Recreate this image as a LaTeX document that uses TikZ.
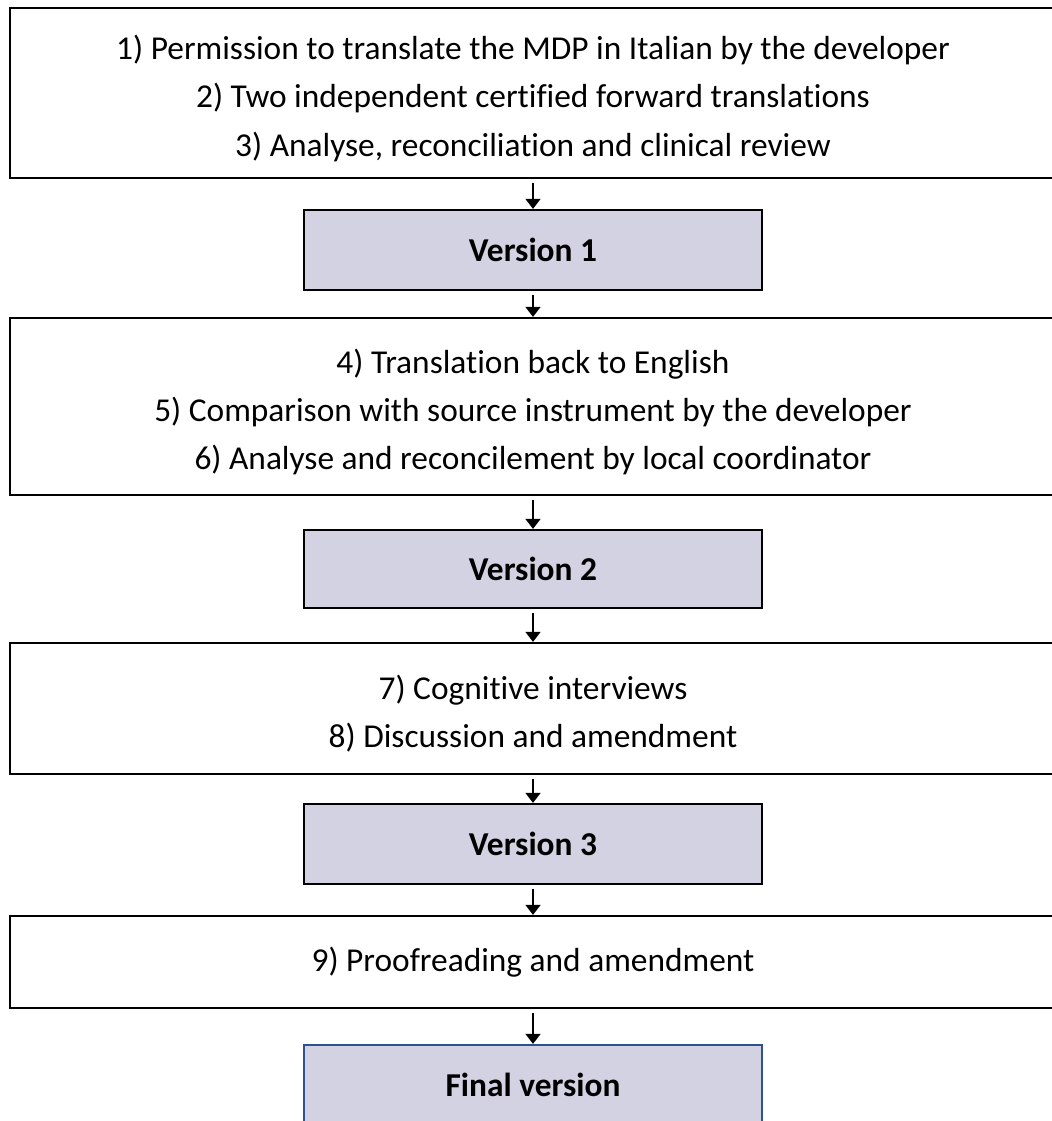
\documentclass[tikz,border=0pt]{standalone}
\usepackage{fontspec}
\setmainfont{Carlito}[Ligatures=NoCommon]
\usetikzlibrary{arrows.meta}

\definecolor{versionfill}{RGB}{210,210,226}
\definecolor{finalblue}{RGB}{47,82,143}

\newcommand{\topstrut}{\rule{0pt}{20pt}}

\tikzset{
	stepbox/.style={draw=black, line width=1.3pt, fill=white, align=center,
		minimum width=20.92cm, inner sep=0pt,
		font=\fontsize{19}{27.5}\selectfont},
	versionbox/.style={draw=black, line width=1.3pt, fill=versionfill,
		minimum width=9.16cm, minimum height=1.6cm, inner sep=0pt,
		font=\fontsize{19}{27.5}\selectfont\bfseries},
	flow/.style={line width=0.9pt, -{Triangle[width=0.3cm,length=0.2cm]}, shorten <=2pt}
}

\begin{document}
\begin{tikzpicture}[x=0.02cm, y=-0.02cm]
	\useasboundingbox (0,0) rectangle (1051,1121);
	
	% Steps 1 2 3
	\node[stepbox, minimum height=3.4cm] (Steps123) at (533,93)
		{\topstrut 1) Permission to translate the MDP in Italian by the developer\\
		 2) Two independent certified forward translations\\
		 3) Analyse, reconciliation and clinical review};
	\node[versionbox] (Version1) at (533,250) {Version 1};
	
	\draw[flow] (Steps123) -- (Version1);
	
	% Steps 4 5 6
	\node[stepbox, minimum height=3.54cm] (Steps456) at (533,406.5)
		{\topstrut 4) Translation back to English\\
		 5) Comparison with source instrument by the developer\\
		 6) Analyse and reconcilement by local coordinator};
	\node[versionbox, minimum height=1.56cm] (Version2) at (533,569) {Version 2};
	
	\draw[flow] (Version1) -- (Steps456);
	\draw[flow] (Steps456) -- (Version2);
	
	% Steps 7 8
	\node[stepbox, minimum height=2.62cm] (Steps78) at (533,708.5)
		{\topstrut 7) Cognitive interviews\\
		 8) Discussion and amendment};
	\node[versionbox] (Version3) at (533,844) {Version 3};
	
	\draw[flow] (Version2) -- (Steps78);
	\draw[flow] (Steps78) -- (Version3);
	
	% Step 9
	\node[stepbox, minimum height=1.84cm] (Step9) at (533,962)
		{9) Proofreading and amendment};
	\node[versionbox, draw=finalblue] (Final) at (533,1085) {Final version};
	
	\draw[flow] (Version3) -- (Step9);
	\draw[flow] (Step9) -- (Final);
\end{tikzpicture}
\end{document}
